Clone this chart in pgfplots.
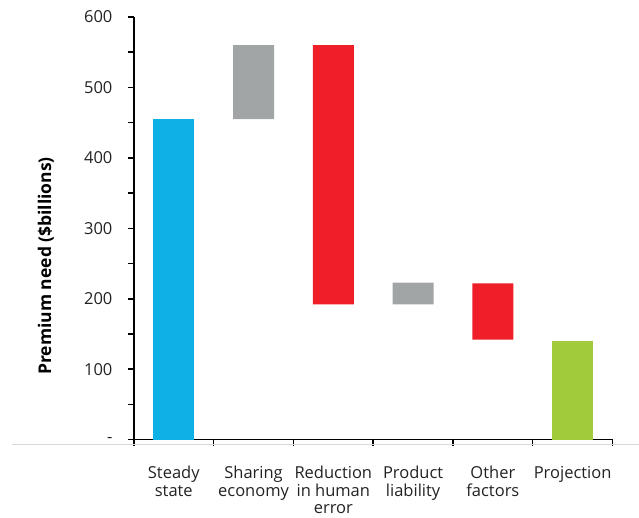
\documentclass[border=0pt]{standalone}
\usepackage{pgfplots}
\pgfplotsset{compat=1.18}
\usepackage{pgfplotstable}
\usepackage{fontspec}
\setmainfont{Open Sans}
\definecolor{cblue}{RGB}{13,177,230}
\definecolor{cgray}{RGB}{162,165,166}
\definecolor{cred}{RGB}{238,31,41}
\definecolor{cgreen}{RGB}{161,203,58}
\definecolor{ctext}{RGB}{34,34,34}
\pgfplotstableread{
x base blue gray red green
0 0 455 0 0 0
1 455 0 105 0 0
2 192 0 0 368 0
3 192 0 31 0 0
4 142 0 0 80 0
5 0 0 0 0 140
}\data
\begin{document}
\begin{tikzpicture}
\begin{axis}[
  scale only axis, width=479pt, height=423pt,
  ybar stacked, bar width=41pt,
  xmin=-0.5, xmax=5.5, ymin=0, ymax=600,
  axis lines=left,
  axis line style={-, line width=1.5pt, color=black},
  clip=false,
  tick align=outside,
  major tick length=6pt, minor tick length=6pt,
  tick style={line width=1.5pt, color=black},
  xtick={0,...,5},
  xticklabels={{Steady\\state},{Sharing\\economy},{Reduction\\in human\\error},{Product\\liability},{Other\\factors},{Projection}},
  major x tick style={draw=none},
  minor xtick={-0.5,0.5,...,5.5},
  xticklabel style={align=center, font=\fontsize{16.5}{17.5}\selectfont, text=ctext, yshift=-17pt},
  ytick={0,100,...,600},
  yticklabels={{-\hspace{10pt}},100,200,300,400,500,600},
  minor y tick num=1,
  yticklabel style={font=\fontsize{16.5}{17.5}\selectfont, text=ctext, xshift=-12pt},
  ylabel={Premium need (\$billions)},
  ylabel style={at={(rel axis cs:0,0.411)}, anchor=center, yshift=88pt, font=\bfseries\fontsize{17.5}{19}\selectfont, text=black},
]
\addplot[draw=none, fill=none] table[x=x, y=base] {\data};
\addplot[draw=none, fill=cblue] table[x=x, y=blue] {\data};
\addplot[draw=none, fill=cgray] table[x=x, y=gray] {\data};
\addplot[draw=none, fill=cred] table[x=x, y=red] {\data};
\addplot[draw=none, fill=cgreen] table[x=x, y=green] {\data};
\coordinate (O) at (rel axis cs:0,0);
\coordinate (T) at (rel axis cs:1,1);
\draw[color=black!15, line width=1pt] ([shift={(-122pt,-5pt)}]rel axis cs:0,0) -- ([shift={(26pt,-5pt)}]rel axis cs:1,0);
\end{axis}
\path ([shift={(-134pt,-76pt)}]O) rectangle ([shift={(26pt,17pt)}]T);
\end{tikzpicture}
\end{document}
